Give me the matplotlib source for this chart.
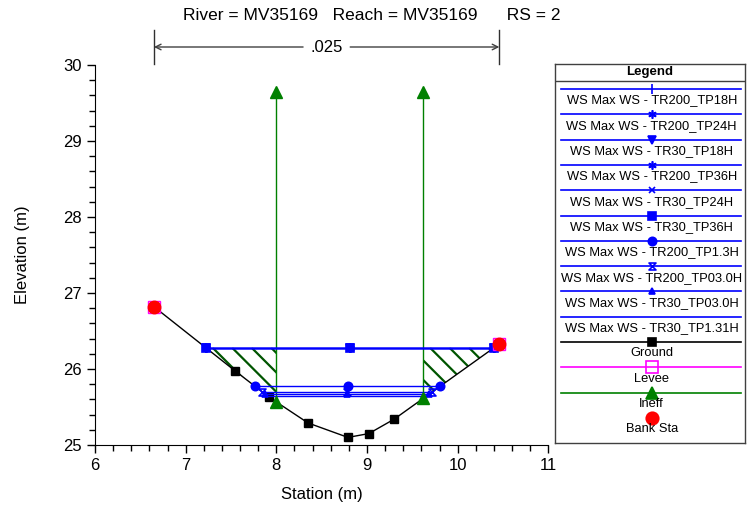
import numpy as np
import matplotlib
matplotlib.use("Agg")
import matplotlib.pyplot as plt
from matplotlib.path import Path
from matplotlib.patches import Polygon
from matplotlib.ticker import MultipleLocator
import matplotlib.transforms as mtransforms

plt.rcParams['font.family'] = ['Liberation Sans', 'DejaVu Sans']

# ---------------- data ----------------
ground_x = [6.65, 7.54, 7.92, 8.35, 8.79, 9.02, 9.30, 10.46]
ground_y = [26.82, 25.98, 25.63, 25.29, 25.10, 25.15, 25.34, 26.33]

bank_x = [6.65, 10.46]
bank_y = [26.82, 26.33]

levee_x = [6.65, 10.46]
levee_y = [26.82, 26.33]

ineff_x = [8.00, 9.62]
ineff_elev = 29.65

mann_n_label = ".025"

profiles = ["TR200_TP18H", "TR200_TP24H", "TR30_TP18H", "TR200_TP36H",
            "TR30_TP24H", "TR30_TP36H", "TR200_TP1.3H", "TR200_TP03.0H",
            "TR30_TP03.0H", "TR30_TP1.31H"]
ws_elev = [26.28, 26.28, 26.28, 26.28, 26.28, 26.28, 25.77, 25.70, 25.67, 25.65]

title_text = "River = MV35169   Reach = MV35169      RS = 2"

# ---------------- styles ----------------
hourglass = Path([(-1, 1), (1, 1), (-1, -1), (1, -1), (-1, 1)],
                 [Path.MOVETO, Path.LINETO, Path.LINETO, Path.LINETO, Path.CLOSEPOLY])
ws_markers = ['|', (6, 2, 0), 'v', (6, 2, 0), 'x', 's', 'o', hourglass, '^', None]
ws_msize = [7, 6, 6, 6, 5, 5.5, 6, 5, 5, 0]
ws_fill = ['full', 'full', 'full', 'full', 'full', 'full', 'full', 'none', 'full', 'full']
BLUE = '#0000FF'
GREEN = '#008000'
MAG = '#FF00FF'
HATCH = '#005500'

W, H = 747, 512
fig = plt.figure(figsize=(W / 100, H / 100), dpi=100)
ax_l, ax_r, ax_t, ax_b = 95, 548.3, 65, 445
ax = fig.add_axes([ax_l / W, 1 - ax_b / H, (ax_r - ax_l) / W, (ax_b - ax_t) / H])
ax.set_xlim(6, 11)
ax.set_ylim(25, 30)

gx = np.array(ground_x)
gy = np.array(ground_y)


def ws_extent(z):
    imin = int(np.argmin(gy))
    lx, ly = gx[:imin + 1][::-1], gy[:imin + 1][::-1]
    xl = np.interp(z, ly, lx)
    rx, ry = gx[imin:], gy[imin:]
    xr = np.interp(z, ry, rx)
    return xl, xr


# hatched ineffective areas (45 degree lines, clipped to the region)
px_per_x = (ax_r - ax_l) / 5.0
px_per_y = (ax_b - ax_t) / 5.0
slope = -px_per_x / px_per_y
spacing = 19.5 / px_per_x
zmax = max(ws_elev)
xl, xr = ws_extent(zmax)
for a, b in [(xl, ineff_x[0]), (ineff_x[1], xr)]:
    xs = np.concatenate([[a], gx[(gx > a) & (gx < b)], [b]])
    ys = np.interp(xs, gx, gy)
    verts = list(zip(xs, ys)) + [(b, zmax), (a, zmax)]
    poly = Polygon(verts, closed=True, facecolor='none', edgecolor='none')
    ax.add_patch(poly)
    for x0 in np.arange(a - 1.0, b + 0.05, spacing):
        xx = np.array([x0, x0 + 1.5])
        yy = zmax + slope * (xx - x0)
        ln, = ax.plot(xx, yy, color=HATCH, lw=1.6, zorder=1,
                      solid_capstyle='butt')
        ln.set_clip_path(poly)

# ineffective lines
for xi in ineff_x:
    zb = np.interp(xi, gx, gy)
    ax.plot([xi, xi], [zb, ineff_elev], color=GREEN, lw=1, zorder=2)
    ax.plot([xi, xi], [zb, ineff_elev], ls='none', marker='^', ms=9,
            color=GREEN, zorder=6)

# ground
ax.plot(gx, gy, color='black', lw=1, marker='s', ms=5.5, zorder=3)

# water surfaces
for z, m, ms, fs in zip(ws_elev, ws_markers, ws_msize, ws_fill):
    a, b = ws_extent(z)
    ax.plot([a, b], [z, z], color=BLUE, lw=1, zorder=4)
    if m is not None:
        ax.plot([a, (a + b) / 2, b], [z, z, z], ls='none', marker=m, ms=ms,
                color=BLUE, fillstyle=fs, mew=1.2, zorder=5)

# levee and bank stations
ax.plot(levee_x, levee_y, ls='none', marker='s', ms=8.5, mfc='none', mec=MAG,
        mew=1, zorder=6)
ax.plot(bank_x, bank_y, ls='none', marker='o', ms=9, color='red', zorder=7)

ax.xaxis.set_major_locator(MultipleLocator(1))
ax.xaxis.set_minor_locator(MultipleLocator(0.2))
ax.yaxis.set_major_locator(MultipleLocator(1))
ax.yaxis.set_minor_locator(MultipleLocator(0.2))
ax.tick_params(which='major', length=6, width=1, labelsize=12, direction='out')
ax.tick_params(which='minor', length=4, width=1, direction='out')
for s in ['top', 'right']:
    ax.spines[s].set_visible(False)
ax.set_xlabel('Station (m)', fontsize=12, labelpad=10)
ax.set_ylabel('Elevation (m)', fontsize=12, labelpad=24)

# Manning's n dimension line
trans = mtransforms.blended_transform_factory(ax.transData, ax.transAxes)
ydim = (445 - 47) / 380
mid = (bank_x[0] + bank_x[1]) / 2
ax.text(mid, ydim, mann_n_label, transform=trans, ha='center', va='center',
        fontsize=12)
for end, start in [(bank_x[0], mid - 0.26), (bank_x[1], mid + 0.26)]:
    ax.annotate('', xy=(end, ydim), xycoords=trans, xytext=(start, ydim),
                textcoords=trans,
                arrowprops=dict(arrowstyle='->', color='#404040', lw=1,
                                shrinkA=0, shrinkB=0, mutation_scale=10),
                annotation_clip=False)
    ax.plot([end, end], [1.003, 1.092], transform=trans, color='#303030',
            lw=1, clip_on=False)

fig.text(372 / W, 1 - 16 / H, title_text, ha='center', va='center', fontsize=12.5)

# ---------------- legend ----------------
L, R, T, B = 554.7, 745.0, 64.3, 443.0
lax = fig.add_axes([L / W, 1 - B / H, (R - L) / W, (B - T) / H])
lax.set_xlim(L, R)
lax.set_ylim(B, T)
lax.set_xticks([])
lax.set_yticks([])
for s in lax.spines.values():
    s.set_linewidth(1)
    s.set_color('#404040')
lax.text((L + R) / 2, 72.5, 'Legend', ha='center', va='center', fontsize=9.5,
         fontweight='bold')
lax.plot([L, R], [81, 81], color='#404040', lw=1)

entries = []
for p, m, ms, fs in zip(profiles, ws_markers, ws_msize, ws_fill):
    entries.append(("WS Max WS - " + p, BLUE, m, ms, BLUE, BLUE, fs, True))
entries.append(("Ground", 'black', 's', 5.5, 'black', 'black', 'full', True))
entries.append(("Levee", MAG, 's', 8.5, 'none', MAG, 'full', True))
entries.append(("Ineff", GREEN, '^', 9, GREEN, GREEN, 'full', True))
entries.append(("Bank Sta", 'red', 'o', 9, 'red', 'red', 'full', False))

xc = 651.7
for i, (lab, lc, m, ms, mfc, mec, fs, has_line) in enumerate(entries):
    yl = 89 + i * 25.3
    if has_line:
        lax.plot([561, 741], [yl, yl], color=lc, lw=1.2)
    if m is not None:
        kw = dict(mec=mec, fillstyle=fs)
        if fs == 'full':
            kw['mfc'] = mfc
        lax.plot([xc], [yl], ls='none', marker=m, ms=ms, mew=1.2, **kw)
    lax.text(xc, yl + 11.5, lab, ha='center', va='center', fontsize=9.3)

fig.savefig('out.png', dpi=100)
